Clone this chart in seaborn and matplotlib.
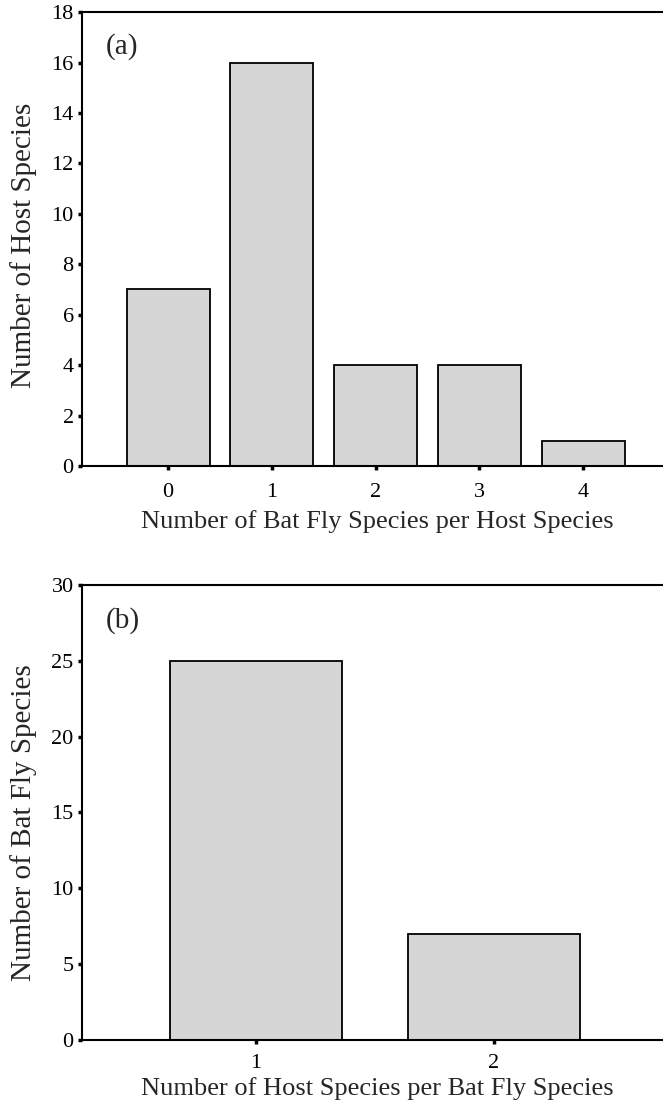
import matplotlib
matplotlib.use('Agg')
import matplotlib.pyplot as plt
import seaborn as sns
import pandas as pd

# panel (a): bat fly species per host species
flies_per_host = ['0', '1', '2', '3', '4']
host_counts = [7, 16, 4, 4, 1]

# panel (b): host species per bat fly species
hosts_per_fly = ['1', '2']
fly_counts = [25, 7]

sns.set_theme(style='white')
plt.rcParams['font.family'] = ['Liberation Serif', 'DejaVu Serif']
plt.rcParams['axes.linewidth'] = 1.5

fig = plt.figure(figsize=(6.63, 11.08), dpi=100)
ax1 = fig.add_axes([0.1237, 0.5794, 0.8763, 0.4097])
ax2 = fig.add_axes([0.1237, 0.0614, 0.8763, 0.4106])

df_a = pd.DataFrame({'x': flies_per_host, 'n': host_counts})
df_b = pd.DataFrame({'x': hosts_per_fly, 'n': fly_counts})

sns.barplot(data=df_a, x='x', y='n', ax=ax1, color='#d6d6d6',
            edgecolor='black', linewidth=1.3, width=0.8, saturation=1)
sns.barplot(data=df_b, x='x', y='n', ax=ax2, color='#d6d6d6',
            edgecolor='black', linewidth=1.3, width=0.72, saturation=1)

ax1.set_ylim(0, 18)
ax1.set_yticks(range(0, 19, 2))
ax1.set_xlim(-0.83, 4.77)
ax2.set_ylim(0, 30)
ax2.set_yticks(range(0, 31, 5))
ax2.set_xlim(-0.731, 1.71)

labels = [
    (ax1, 'Number of Bat Fly Species per Host Species', 'Number of Host Species', '(a)', 0.485),
    (ax2, 'Number of Host Species per Bat Fly Species', 'Number of Bat Fly Species', '(b)', 0.477),
]
for ax, xl, yl, tag, ymid in labels:
    ax.set_xlabel(xl, fontsize=19)
    ax.xaxis.label.set_va('top')
    ax.set_ylabel(yl, fontsize=21)
    ax.yaxis.set_label_coords(-0.078, ymid)
    ax.spines['right'].set_visible(False)
    for s in ['left', 'top', 'bottom']:
        ax.spines[s].set_color('black')
    ax.tick_params(axis='both', which='major', labelsize=16, colors='black',
                   length=3, width=2.5, direction='out', bottom=True, left=True)
    ax.tick_params(axis='y', pad=3)
    ax.tick_params(axis='x', pad=9)
    ax.text(0.04, 0.923, tag, transform=ax.transAxes, fontsize=21,
            ha='left', va='center')

# x labels: tops placed at pixel rows
ax1.xaxis.set_label_coords(0.508, -(510 - 466) / 454)
ax2.xaxis.set_label_coords(0.508, -(1077 - 1040) / 455)
ax2.tick_params(axis='x', pad=7)

fig.savefig('out.png', dpi=100)
